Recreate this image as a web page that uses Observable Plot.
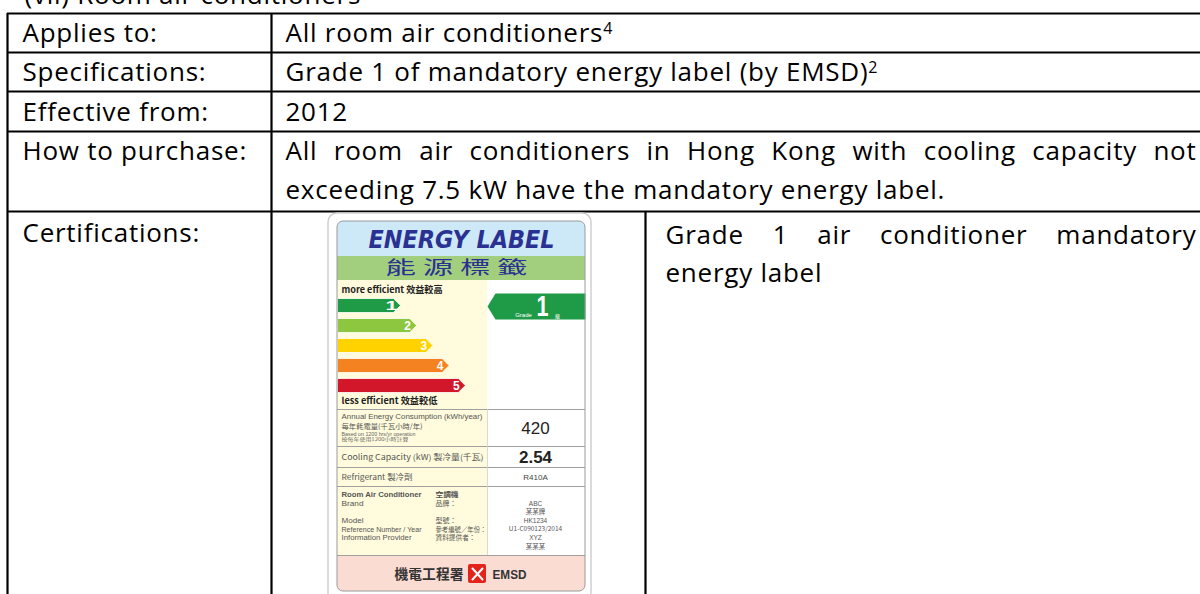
<!DOCTYPE html>
<html><head><meta charset="utf-8">
<script src="https://cdn.jsdelivr.net/npm/d3@7"></script>
<script src="https://cdn.jsdelivr.net/npm/@observablehq/plot@0.6"></script>
<style>html,body{margin:0;padding:0;background:#fff;overflow:hidden} svg{display:block}</style>
</head><body><div id="chart"></div>
<script>
// ---------- data ----------
const title = "(vii) Room air conditioners";
const rowLabels = ["Applies to:", "Specifications:", "Effective from:", "How to purchase:", "Certifications:"];
const rowTexts = ["All room air conditioners", "Grade 1 of mandatory energy label (by EMSD)", "2012",
  "All room air conditioners in Hong Kong with cooling capacity not",
  "exceeding 7.5 kW have the mandatory energy label."];
const superscripts = {"All room air conditioners": "4", "Grade 1 of mandatory energy label (by EMSD)": "2"};
const certText = ["Grade 1 air conditioner mandatory", "energy label"];

const labelTitle = "ENERGY LABEL";
const labelTitleZh = "能 源 標 籤";
const moreEff = "more efficient 效益較高";
const lessEff = "less efficient 效益較低";
const grades = [1, 2, 3, 4, 5];
const gradeColors = ["#1f9b47", "#8dc63f", "#ffd200", "#f58220", "#d3172a"];
const ratedGrade = "1";
const gradeWords = ["Grade", "級"];
const specNames = ["Annual Energy Consumption (kWh/year)", "每年耗電量(千瓦小時/年)", "Based on 1200 hrs/yr operation", "按每年使用1200小時計算",
  "Cooling Capacity (kW) 製冷量(千瓦)", "Refrigerant 製冷劑"];
const specValues = ["420", "2.54", "R410A"];
const infoEn = ["Room Air Conditioner", "Brand", "Model", "Reference Number / Year", "Information Provider"];
const infoZh = ["空調機", "品牌：", "型號：", "參考編號／年份：", "資料提供者："];
const infoValues = ["ABC", "某某牌", "HK1234", "U1-C090123/2014", "XYZ", "某某某"];
const footer = ["機電工程署", "EMSD"];

// ---------- layout ----------
const W = 1200, H = 594;
const font = "'Open Sans', sans-serif";
const fs = 26;
const cjk = "'Noto Sans CJK TC', 'Noto Sans CJK SC', sans-serif";
const bold = "'Liberation Sans', Arial, sans-serif";
const heavy = "'DejaVu Sans', sans-serif";
const tLeft = 7, tRight = 1215, colSplit = 271, certSplit = 645;
const hLines = [13, 52, 91, 131, 211];
const labelY = [33, 72, 112, 151, 233];
const valueY = [33, 72, 112, 151, 190];

const fit = {}; // text -> target width (textLength)
const justify = {}; // text -> target width (word spacing)
justify[rowTexts[3]] = 1196 - 285;
justify[certText[0]] = 1196 - 665;
const bodyTexts = new Set([title, ...rowLabels, ...rowTexts, ...certText]);

const marks = [];
function T(text, x, y, o = {}) {
  if (o.fit) fit[text] = o.fit;
  marks.push(Plot.text([text], {
    x: () => x, y: () => y, text: d => d,
    textAnchor: o.anchor || "start", fontSize: o.size || fs,
    fontFamily: o.family || font, fontWeight: o.weight || "normal",
    fontStyle: o.style || "normal", fill: o.fill || "#000"
  }));
}
function R(x1, x2, y1, y2, o = {}) {
  marks.push(Plot.rect([0], {x1: () => x1, x2: () => x2, y1: () => y1, y2: () => y2,
    fill: o.fill || "none", stroke: o.stroke || "none", strokeWidth: o.sw || 1, rx: o.rx || 0, inset: 0}));
}
function P(pts, o = {}) {
  marks.push(Plot.line(pts, {x: d => d[0], y: d => d[1], fill: o.fill || "none",
    stroke: o.stroke || "none", strokeWidth: o.sw || 1, curve: "linear"}));
}

// ---------- table ----------
T(title, 24, -5);
marks.push(Plot.ruleY(hLines, {y: d => d, x1: () => tLeft, x2: () => tRight, stroke: "#000", strokeWidth: 2.2}));
marks.push(Plot.ruleX([tLeft, colSplit], {x: d => d, y1: () => 13, y2: () => 600, stroke: "#000", strokeWidth: 2.2}));
marks.push(Plot.ruleX([certSplit], {x: d => d, y1: () => 211, y2: () => 600, stroke: "#000", strokeWidth: 2.2}));
rowLabels.forEach((t, i) => T(t, 22, labelY[i]));
rowTexts.forEach((t, i) => T(t, 285, valueY[i]));
T(certText[0], 665, 235);
T(certText[1], 665, 273);

// ---------- energy label ----------
R(328, 591, 213, 640, {fill: "#fff", stroke: "#cfcfcf", sw: 1.5, rx: 9});
R(337, 585, 549, 591, {fill: "#fbdcd3", rx: 6});
R(337, 585, 221, 262, {fill: "#cde9f8", rx: 6});
R(337, 585, 256, 280, {fill: "#a2cf7d"});
R(337, 487, 280, 555, {fill: "#fffbdc"});
R(487, 585, 280, 555, {fill: "#ffffff"});
T(labelTitle, 461, 240, {anchor: "middle", size: 24, family: heavy, weight: "bold", style: "italic", fill: "#2b3192", fit: 186});
T(labelTitleZh, 456, 268, {anchor: "middle", size: 18, family: cjk, fill: "#2b3192", fit: 142});
T(moreEff, 341, 290, {size: 9, family: cjk, weight: "bold", fill: "#222", fit: 101});
T(lessEff, 341, 401, {size: 9, family: cjk, weight: "bold", fill: "#222", fit: 96});

grades.forEach((g, i) => {
  const tip = 400 + 16.2 * i, y0 = 298 + 20 * i, y1 = y0 + 14;
  P([[337, y0], [tip - 7, y0], [tip, (y0 + y1) / 2], [tip - 7, y1], [337, y1], [337, y0]], {fill: gradeColors[i], stroke: "#fff", sw: 0.8});
  T(String(g), tip - 9, (y0 + y1) / 2 + 0.5, {anchor: "middle", size: 12, family: bold, weight: "bold", fill: "#fff"});
});
// rated grade arrow
P([[487, 306], [495, 293], [585, 293], [585, 319], [495, 319], [487, 306]], {fill: gradeColors[0]});
T(gradeWords[0], 523, 315, {anchor: "middle", size: 6, family: bold, fill: "#fff"});
T(ratedGrade, 542, 306, {anchor: "middle", size: 30, family: bold, weight: "bold", fill: "#fff", fit: 12});
T(gradeWords[1], 557, 316, {anchor: "middle", size: 5, family: cjk, fill: "#fff"});

// spec rows
marks.push(Plot.ruleY([409, 446, 467, 486, 555], {y: d => d, x1: () => 337, x2: () => 585, stroke: "#a0a0a0", strokeWidth: 1}));
marks.push(Plot.ruleX([487], {x: d => d, y1: () => 409, y2: () => 555, stroke: "#d0d0d0", strokeWidth: 0.8}));
T(specNames[0], 341, 416, {size: 7.5, family: bold, fill: "#555", fit: 141});
T(specNames[1], 341, 426, {size: 7, family: cjk, fill: "#555", fit: 81});
T(specNames[2], 341, 434, {size: 4.5, family: bold, fill: "#666", fit: 74});
T(specNames[3], 341, 439, {size: 4.5, family: cjk, fill: "#666", fit: 67});
T(specNames[4], 341, 457, {size: 8, family: cjk, fill: "#555", fit: 142});
T(specNames[5], 341, 477, {size: 8, family: cjk, fill: "#555", fit: 71});
T(specValues[0], 535, 428, {anchor: "middle", size: 17, family: bold, fill: "#222"});
T(specValues[1], 535, 457, {anchor: "middle", size: 17, family: bold, weight: "bold", fill: "#222"});
T(specValues[2], 535, 477, {anchor: "middle", size: 8, family: bold, fill: "#444"});

const infoY = [494, 503, 520, 529, 537];
const infoFit = [80, 22, 22, 80, 70];
const infoZhFit = [23, 21, 21, 51, 40];
infoEn.forEach((t, i) => T(t, 341, infoY[i], {size: 7, family: bold, weight: i === 0 ? "bold" : "normal", fill: "#555", fit: infoFit[i]}));
infoZh.forEach((t, i) => T(t, 435, infoY[i], {size: 7, family: cjk, weight: i === 0 ? "bold" : "normal", fill: "#555", fit: infoZhFit[i]}));
const valY = [503, 511, 520, 528, 537, 546];
infoValues.forEach((t, i) => T(t, 535, valY[i], {anchor: "middle", size: 6.5, family: i % 2 ? cjk : bold, fill: "#555"}));

// footer
T(footer[0], 394, 574, {size: 14, family: cjk, weight: "bold", fill: "#333", fit: 69});
R(468, 486, 564, 583, {fill: "#e4231b", rx: 2});
P([[472, 568], [482, 579]], {stroke: "#fff", sw: 2});
P([[482, 568], [472, 579]], {stroke: "#fff", sw: 2});
T(footer[1], 492, 574, {size: 13, family: bold, weight: "bold", fill: "#333", fit: 34});

// inner frame on top
R(337, 585, 221, 591, {stroke: "#9a9a9a", sw: 1, rx: 6});

const svg = Plot.plot({
  width: W, height: H, margin: 0,
  x: {domain: [0, W], range: [0, W], axis: null},
  y: {domain: [0, H], range: [0, H], axis: null},
  style: {background: "#fff"},
  marks
});
document.getElementById("chart").append(svg);

// post-process: letter spacing, fit widths, justification, superscripts
d3.select(svg).selectAll("text").each(function () {
  const t = this.textContent;
  if (bodyTexts.has(t)) this.style.letterSpacing = "0.75px";
  if (fit[t]) {
    this.setAttribute("textLength", fit[t]);
    this.setAttribute("lengthAdjust", "spacingAndGlyphs");
  }
  if (justify[t]) {
    const len = this.getComputedTextLength();
    const spaces = (t.match(/ /g) || []).length;
    this.style.wordSpacing = ((justify[t] - len) / spaces) + "px";
  }
  if (superscripts[t]) {
    d3.select(this).append("tspan").attr("font-size", 16).attr("dy", "-0.5em").text(superscripts[t]);
  }
});
</script>
</body></html>
